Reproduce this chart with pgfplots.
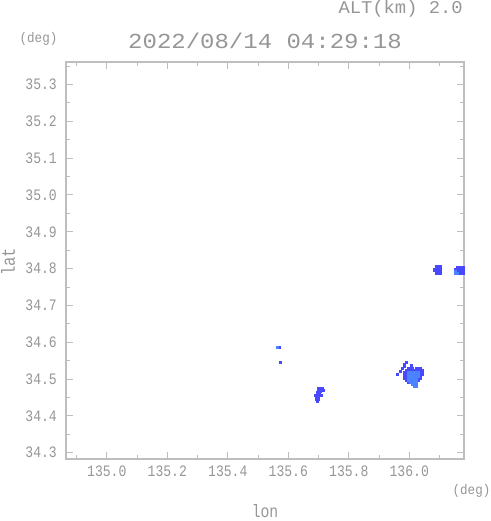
\documentclass[border=0pt]{standalone}
\usepackage{pgfplots}
\pgfplotsset{compat=1.18}
\usepackage{fontspec}
\setmainfont{Liberation Sans}
\newfontfamily\tickfont[FakeStretch=0.82]{Liberation Mono}
\newfontfamily\titfont[FakeStretch=1.12]{Liberation Mono}
\newfontfamily\altfont[FakeStretch=1.05]{Liberation Mono}
\newfontfamily\degfont[FakeStretch=0.9]{Liberation Mono}
\definecolor{txtgray}{RGB}{150,150,150}
\definecolor{axgray}{RGB}{190,190,190}
\definecolor{rdark}{RGB}{72,72,255}
\definecolor{rlight}{RGB}{74,130,255}
\begin{document}
\begin{tikzpicture}
\useasboundingbox (0,0) rectangle (491bp,521bp);
\begin{axis}[
  at={(66bp,62bp)}, anchor=south west,
  scale only axis, width=398bp, height=397bp,
  xmin=134.865, xmax=136.181, ymin=34.283, ymax=35.361,
  axis line style={axgray, line width=1.1bp},
  every tick/.style={axgray, line width=0.9bp},
  tick align=inside,
  major tick length=7bp, minor tick length=4bp,
  xtick={135.0,135.2,135.4,135.6,135.8,136.0},
  xticklabels={135.0,135.2,135.4,135.6,135.8,136.0},
  minor xtick={134.9,135.1,135.3,135.5,135.7,135.9,136.1},
  ytick={34.3,34.4,34.5,34.6,34.7,34.8,34.9,35.0,35.1,35.2,35.3},
  yticklabels={34.3,34.4,34.5,34.6,34.7,34.8,34.9,35.0,35.1,35.2,35.3},
  minor ytick={34.35,34.45,34.55,34.65,34.75,34.85,34.95,35.05,35.15,35.25,35.35},
  xticklabel style={font=\tickfont\fontsize{16}{16}\selectfont, text=txtgray, anchor=center, inner sep=0pt, yshift=-12bp},
  yticklabel style={font=\tickfont\fontsize{16}{16}\selectfont, text=txtgray, anchor=east, inner sep=0pt, xshift=-9bp},
  clip=true,
]
% dark cells
\addplot[only marks, mark=square*, color=rdark, mark size=1.15pt] coordinates {
 (135.997,34.530) (136.003,34.530) (136.010,34.530) (136.023,34.530) (136.030,34.530) (136.036,34.530)
 (135.990,34.525) (135.997,34.525) (136.003,34.525) (136.010,34.525) (136.017,34.525) (136.023,34.525) (136.030,34.525) (136.036,34.525) (136.043,34.525)
 (135.983,34.519) (135.990,34.519) (136.036,34.519) (136.043,34.519)
 (135.983,34.514) (135.990,34.514) (136.036,34.514) (136.043,34.514)
 (135.983,34.508) (135.990,34.508) (136.036,34.508)
 (135.983,34.503) (135.990,34.503) (136.030,34.503) (136.036,34.503)
 (135.990,34.498) (136.030,34.498)
 (135.997,34.492)
 (135.983,34.540) (135.990,34.546) (136.007,34.536) (135.977,34.530) (135.970,34.522) (135.960,34.514) (135.983,34.536)
 (136.089,34.788) (136.095,34.788) (136.101,34.788)
 (136.089,34.794) (136.095,34.794) (136.101,34.794)
 (136.089,34.800) (136.095,34.800) (136.101,34.800)
 (136.089,34.806) (136.095,34.806) (136.101,34.806)
 (136.083,34.797)
 (136.158,34.804) (136.165,34.804) (136.171,34.804) (136.177,34.804)
 (136.158,34.798) (136.165,34.798) (136.171,34.798) (136.177,34.798) (136.152,34.798)
 (136.158,34.793) (136.165,34.793) (136.171,34.793) (136.177,34.793)
 (136.165,34.787) (136.171,34.787) (136.177,34.787)
 (135.700,34.474) (135.706,34.474) (135.712,34.474) (135.716,34.470)
 (135.700,34.468) (135.706,34.468)
 (135.696,34.463) (135.702,34.463)
 (135.690,34.457) (135.696,34.457) (135.702,34.457) (135.708,34.457)
 (135.693,34.451) (135.699,34.451)
 (135.693,34.445) (135.699,34.445) (135.696,34.440)
 (135.569,34.586) (135.573,34.546)
};
% light cells
\addplot[only marks, mark=square*, color=rlight, mark size=1.15pt] coordinates {
 (135.997,34.519) (136.003,34.519) (136.010,34.519) (136.017,34.519) (136.023,34.519) (136.030,34.519)
 (135.997,34.514) (136.003,34.514) (136.010,34.514) (136.017,34.514) (136.023,34.514) (136.030,34.514)
 (135.997,34.508) (136.003,34.508) (136.010,34.508) (136.017,34.508) (136.023,34.508) (136.030,34.508)
 (135.997,34.503) (136.003,34.503) (136.010,34.503) (136.017,34.503) (136.023,34.503)
 (135.997,34.498) (136.003,34.498) (136.010,34.498) (136.017,34.498) (136.023,34.498)
 (136.003,34.492) (136.010,34.492) (136.017,34.492) (136.023,34.492)
 (136.010,34.487) (136.017,34.487) (136.023,34.487)
 (136.017,34.481) (136.023,34.481)
 (136.152,34.793) (136.152,34.787) (136.158,34.787)
 (135.563,34.586)
};
\end{axis}
\node[anchor=east, inner sep=0pt, text=txtgray, font=\altfont\fontsize{18}{18}\selectfont] at (463bp,512bp) {ALT(km) 2.0};
\node[anchor=center, inner sep=0pt, text=txtgray, font=\titfont\fontsize{21.5}{21.5}\selectfont] at (265bp,480.5bp) {2022/08/14 04:29:18};
\node[anchor=center, inner sep=0pt, text=txtgray, font=\degfont\fontsize{14}{14}\selectfont] at (38.5bp,482bp) {(deg)};
\node[anchor=center, inner sep=0pt, text=txtgray, font=\degfont\fontsize{14}{14}\selectfont] at (471.5bp,30bp) {(deg)};
\node[anchor=base, inner sep=0pt, text=txtgray, font=\tickfont\fontsize{18}{18}\selectfont] at (265bp,3.5bp) {lon};
\node[anchor=center, inner sep=0pt, text=txtgray, rotate=90, font=\tickfont\fontsize{19}{19}\selectfont] at (8bp,259bp) {lat};
\end{tikzpicture}
\end{document}
